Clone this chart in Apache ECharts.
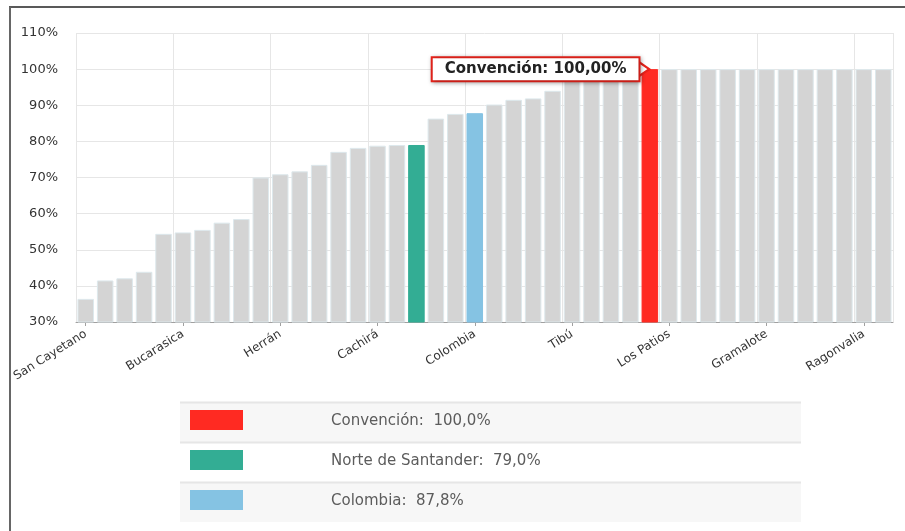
<!DOCTYPE html>
<html>
<head>
<meta charset="utf-8">
<script src="https://cdn.jsdelivr.net/npm/echarts@6/dist/echarts.min.js"></script>
<style>
html,body{margin:0;padding:0;background:#fff;}
#c{width:905px;height:531px;}
</style>
</head>
<body>
<div id="c"></div>
<script>
// Categories (only every 5th label is legible in the reference; others are hidden)
const categories = [
  'San Cayetano','Ábrego','Arboledas','Bochalema','Cácota',
  'Bucarasica','Chinácota','Chitagá','Cúcuta','Cucutilla',
  'Herrán','Durania','El Carmen','El Tarra','El Zulia',
  'Cachirá','Hacarí','Norte de Santander','La Esperanza','La Playa',
  'Colombia','Labateca','Lourdes','Mutiscua','Ocaña',
  'Tibú','Pamplona','Pamplonita','Puerto Santander','Convención',
  'Los Patios','Salazar','San Calixto','Santiago','Sardinata',
  'Gramalote','Silos','Teorama','Toledo','Villa Caro',
  'Ragonvalia','Villa del Rosario'
];
// Values in percent
const values = [
  36.4, 41.5, 42.1, 43.9, 54.4,
  54.8, 55.5, 57.5, 58.5, 70.0,
  70.9, 71.7, 73.5, 77.1, 78.2,
  78.8, 79.0, 79.0, 86.3, 87.6,
  87.8, 90.2, 91.5, 91.9, 94.0,
  97.8, 98.5, 99.0, 99.6, 100.0,
  100.0, 100.0, 100.0, 100.0, 100.0,
  100.0, 100.0, 100.0, 100.0, 100.0,
  100.0, 100.0
];
// Highlighted entries (also the legend table rows)
const highlightNames = ['Convención', 'Norte de Santander', 'Colombia'];
const highlightColors = ['#ff2a22', '#33ad94', '#85c3e3'];
const yTicks = [30, 40, 50, 60, 70, 80, 90, 100, 110];
const focusName = 'Convención';

const baseColor = '#d4d4d4';
const fmt1 = v => v.toFixed(1).replace('.', ',');
const fmt2 = v => v.toFixed(2).replace('.', ',');

const barData = values.map((v, i) => {
  const h = highlightNames.indexOf(categories[i]);
  return {
    value: v,
    itemStyle: h >= 0 ? { color: highlightColors[h], borderColor: highlightColors[h] } : undefined
  };
});

const focusIdx = categories.indexOf(focusName);

// legend table graphics
const tableLeft = 180, tableRight = 801, rowTop = 402, rowH = 40;
const graphics = [
  // frame
  { type: 'line', shape: { x1: 9, y1: 7, x2: 905, y2: 7 }, style: { stroke: '#222', lineWidth: 1.5 }, z: 100 },
  { type: 'line', shape: { x1: 10, y1: 7, x2: 10, y2: 531 }, style: { stroke: '#666', lineWidth: 2 }, z: 100 }
];
highlightNames.forEach((name, k) => {
  const y0 = rowTop + k * rowH;
  const v = values[categories.indexOf(name)];
  graphics.push({ type: 'rect', shape: { x: tableLeft, y: y0, width: tableRight - tableLeft, height: rowH }, style: { fill: k % 2 === 0 ? '#f7f7f7' : '#ffffff' } });
  graphics.push({ type: 'line', shape: { x1: tableLeft, y1: y0 + 0.5, x2: tableRight, y2: y0 + 0.5 }, style: { stroke: '#e6e6e6', lineWidth: 2 } });
  graphics.push({ type: 'rect', shape: { x: 190, y: y0 + 8, width: 53, height: 20 }, style: { fill: highlightColors[k] } });
  graphics.push({ type: 'text', x: 331, y: y0 + 19, style: { text: name + ':  ' + fmt1(v) + '%', fill: '#5c5c5c', font: '15px "DejaVu Sans", sans-serif', textVerticalAlign: 'middle' } });
});

const chart = echarts.init(document.getElementById('c'), null, { renderer: 'canvas' });
chart.setOption({
  animation: false,
  backgroundColor: '#ffffff',
  grid: { left: 76, right: 12, top: 33, bottom: 209, containLabel: false },
  xAxis: {
    type: 'category',
    data: categories,
    boundaryGap: true,
    axisLine: { lineStyle: { color: '#a0a0a0', width: 1 } },
    axisTick: { show: true, alignWithLabel: true, interval: 4, length: 4, lineStyle: { color: '#a0a0a0' } },
    axisLabel: { interval: 4, rotate: 32, margin: 11, color: '#333', fontSize: 12, fontFamily: '"DejaVu Sans", sans-serif' },
    splitLine: { show: true, interval: 4, lineStyle: { color: '#e6e6e6', width: 1 } }
  },
  yAxis: {
    type: 'value',
    min: yTicks[0],
    max: yTicks[yTicks.length - 1],
    interval: 10,
    axisLine: { show: false },
    axisTick: { show: false },
    axisLabel: { formatter: '{value}%', color: '#333', fontSize: 13, margin: 18, fontFamily: '"DejaVu Sans", sans-serif' },
    splitLine: { lineStyle: { color: '#e6e6e6', width: 1 } }
  },
  series: [{
    type: 'bar',
    data: barData,
    barCategoryGap: '15%',
    itemStyle: { color: baseColor, borderColor: '#dde8ec', borderWidth: 1 },
    markPoint: {
      symbol: 'path://M0,0 L10,7 L0,14 Z',
      symbolSize: [11, 15],
      symbolKeepAspect: false,
      symbolOffset: [-6, 0],
      itemStyle: { color: '#ffffff', borderColor: '#e8231b', borderWidth: 2 },
      label: {
        show: true,
        position: 'left',
        distance: -1,
        formatter: () => focusName + ': ' + fmt2(values[focusIdx]) + '%',
        color: '#222',
        fontSize: 15,
        lineHeight: 16,
        fontWeight: 'bold',
        fontFamily: '"DejaVu Sans", sans-serif',
        backgroundColor: '#ffffff',
        borderColor: '#e8231b',
        borderWidth: 2,
        padding: [3, 12, 3, 12],
        shadowBlur: 4,
        shadowColor: 'rgba(0,0,0,0.3)',
        shadowOffsetX: 1,
        shadowOffsetY: 1
      },
      data: [{ coord: [focusIdx, values[focusIdx]] }]
    }
  }],
  graphic: graphics
});
</script>
</body>
</html>
